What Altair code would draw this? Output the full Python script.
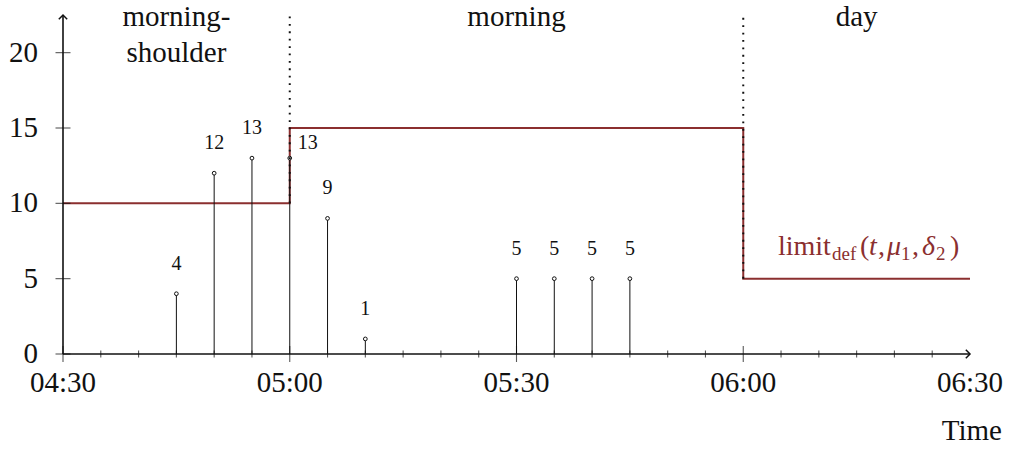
import altair as alt
import pandas as pd

# ---- data -------------------------------------------------------------
# Observed events: clock time and count
EVENT_TIMES = ["04:45", "04:50", "04:55", "05:00", "05:05", "05:10",
               "05:30", "05:35", "05:40", "05:45"]
EVENT_COUNTS = [4, 12, 13, 13, 9, 1, 5, 5, 5, 5]

# Piecewise-constant limit: each value holds from its start time onwards
LIMIT_STARTS = ["04:30", "05:00", "06:00", "06:30"]
LIMIT_VALUES = [10, 15, 5, 5]

# Period separators and the level where each dotted separator ends
BOUNDARY_TIMES = ["05:00", "06:00"]
BOUNDARY_FLOOR = [10, 5]

# Period names written above the plot
PERIOD_LINES = ["morning-", "shoulder", "morning", "day"]
PERIOD_CENTRES = ["04:45", "04:45", "05:30", "06:15"]
PERIOD_LEVELS = [22.35, 20.0, 22.35, 22.35]

X_TICK_LABELS = ["04:30", "05:00", "05:30", "06:00", "06:30"]
Y_TICKS = [0, 5, 10, 15, 20]
Y_TOP = 22.5
MINOR_STEP = 5  # minutes between minor ticks

# ---- helpers ----------------------------------------------------------
START = 4 * 60 + 30


def minutes(hhmm):
    h, m = hhmm.split(":")
    return int(h) * 60 + int(m) - START


X_END = minutes(X_TICK_LABELS[-1])
MAJOR = [minutes(t) for t in X_TICK_LABELS]

FONT = "Liberation Serif"
RED = "#8b2f2f"
INK = "#111111"

xs = alt.Scale(domain=[0, X_END], nice=False, zero=False)
ys = alt.Scale(domain=[0, Y_TOP], nice=False, zero=False)


def X(field="x"):
    return alt.X(f"{field}:Q", scale=xs, axis=None)


def Y(field="y"):
    return alt.Y(f"{field}:Q", scale=ys, axis=None)


events = pd.DataFrame({
    "time": EVENT_TIMES,
    "x": [minutes(t) for t in EVENT_TIMES],
    "y": EVENT_COUNTS,
    "y0": [0] * len(EVENT_COUNTS),
})
limit = pd.DataFrame({"x": [minutes(t) for t in LIMIT_STARTS], "y": LIMIT_VALUES})
bounds = pd.DataFrame({
    "x": [minutes(t) for t in BOUNDARY_TIMES],
    "y": BOUNDARY_FLOOR,
    "y2": [Y_TOP] * len(BOUNDARY_FLOOR),
})
periods = pd.DataFrame({
    "text": PERIOD_LINES,
    "x": [minutes(t) for t in PERIOD_CENTRES],
    "y": PERIOD_LEVELS,
})
major_ticks = pd.DataFrame({"x": MAJOR[:-1], "y": [0] * (len(MAJOR) - 1)})
minor_ticks = pd.DataFrame({
    "x": [m for m in range(0, X_END, MINOR_STEP) if m not in MAJOR],
})
minor_ticks["y"] = 0
x_labels = pd.DataFrame({"x": MAJOR, "y": [0] * len(MAJOR), "text": X_TICK_LABELS})
y_labels = pd.DataFrame({"x": [0] * len(Y_TICKS), "y": Y_TICKS,
                         "text": [str(v) for v in Y_TICKS]})
axes = pd.DataFrame({"x": [0, 0], "y": [0, 0], "x2": [X_END, 0], "y2": [0, Y_TOP]})
corner = pd.DataFrame({"x": [X_END], "y": [LIMIT_VALUES[-1]]})

# ---- layers -----------------------------------------------------------
limit_line = alt.Chart(limit).mark_line(
    interpolate="step-after", color=RED, strokeWidth=2
).encode(x=X(), y=Y())

stems = alt.Chart(events).mark_rule(color=INK, strokeWidth=1).encode(
    x=X(), y=Y("y0"), y2="y:Q")

heads = alt.Chart(events).mark_point(
    shape="circle", size=14, filled=True, fill="white", stroke=INK, strokeWidth=1,
    opacity=1
).encode(x=X(), y=Y())

count_text = alt.Chart(events).transform_filter(
    alt.datum.time != "05:00"
).mark_text(font=FONT, fontSize=20, baseline="middle", dy=-30, color=INK).encode(
    x=X(), y=Y(), text="y:Q")

count_text_side = alt.Chart(events).transform_filter(
    alt.datum.time == "05:00"
).mark_text(font=FONT, fontSize=20, baseline="middle", align="left",
            dx=8, dy=-15, color=INK).encode(x=X(), y=Y(), text="y:Q")

separators = alt.Chart(bounds).mark_rule(
    color=INK, strokeWidth=2, strokeDash=[1.8, 5.6]
).encode(x=X(), y=Y(), y2="y2:Q")

period_text = alt.Chart(periods).mark_text(
    font=FONT, fontSize=29, baseline="middle", color=INK
).encode(x=X(), y=Y(), text="text:N")

axis_lines = alt.Chart(axes).mark_rule(color=INK, strokeWidth=1.6).encode(
    x=X(), y=Y(), x2="x2:Q", y2="y2:Q")

x_arrow = alt.Chart(pd.DataFrame({"x": [X_END], "y": [0]})).mark_point(
    shape="M -1 -1 L 0 0 L -1 1", size=70, filled=False, stroke=INK,
    strokeWidth=1.5, opacity=1
).encode(x=X(), y=Y())

y_arrow = alt.Chart(pd.DataFrame({"x": [0], "y": [Y_TOP]})).mark_point(
    shape="M -1 1 L 0 0 L 1 1", size=70, filled=False, stroke=INK,
    strokeWidth=1.5, opacity=1
).encode(x=X(), y=Y())

x_major = alt.Chart(major_ticks).mark_tick(
    orient="vertical", size=16, thickness=1.1, color=INK
).encode(x=X(), y=Y())

x_minor = alt.Chart(minor_ticks).mark_tick(
    orient="vertical", size=7, thickness=1.1, color=INK
).encode(x=X(), y=Y())

y_major = alt.Chart(y_labels).mark_tick(
    orient="horizontal", size=15, thickness=1.1, color=INK
).encode(x=X(), y=Y())

x_text = alt.Chart(x_labels).mark_text(
    font=FONT, fontSize=29, baseline="middle", dy=29, color=INK
).encode(x=X(), y=Y(), text="text:N")

y_text = alt.Chart(y_labels).mark_text(
    font=FONT, fontSize=29, baseline="middle", align="right", dx=-25, color=INK
).encode(x=X(), y=Y(), text="text:N")

x_title = alt.Chart(pd.DataFrame({"x": [X_END], "y": [0], "text": ["Time"]})).mark_text(
    font=FONT, fontSize=29, baseline="middle", align="right", dx=32, dy=77, color=INK
).encode(x=X(), y=Y(), text="text:N")

# limit_def(t, mu_1, delta_2), set piece by piece beside the last step
LABEL_PARTS = [
    # text, dx, dy, size, style
    ("limit", -192, -24, 28, "normal"),
    ("def", -138, -19, 19, "normal"),
    ("(", -110, -24, 28, "normal"),
    ("t", -101, -24, 28, "italic"),
    (",", -92, -24, 28, "normal"),
    ("\u03bc", -83, -24, 28, "italic"),
    ("1", -69, -19, 19, "normal"),
    (",", -58, -24, 28, "normal"),
    ("\u03b4", -48, -24, 28, "italic"),
    ("2", -34, -19, 19, "normal"),
    (")", -20, -24, 28, "normal"),
]
label_layers = [
    alt.Chart(corner).mark_text(
        text=t, dx=dx, dy=dy, fontSize=fs, fontStyle=st, font=FONT,
        align="left", baseline="alphabetic", color=RED
    ).encode(x=X(), y=Y())
    for t, dx, dy, fs, st in LABEL_PARTS
]

chart = alt.layer(
    limit_line, stems, heads, separators, axis_lines, x_arrow, y_arrow,
    x_major, x_minor, y_major, count_text, count_text_side, period_text,
    x_text, y_text, x_title, *label_layers
).properties(
    width=907, height=339,
    autosize=alt.AutoSizeParams(type="none"),
    padding={"left": 63, "top": 15, "right": 41, "bottom": 97},
    background="white",
).configure_view(stroke=None)

chart.save("out.html", embed_options={"renderer": "svg", "actions": False})
